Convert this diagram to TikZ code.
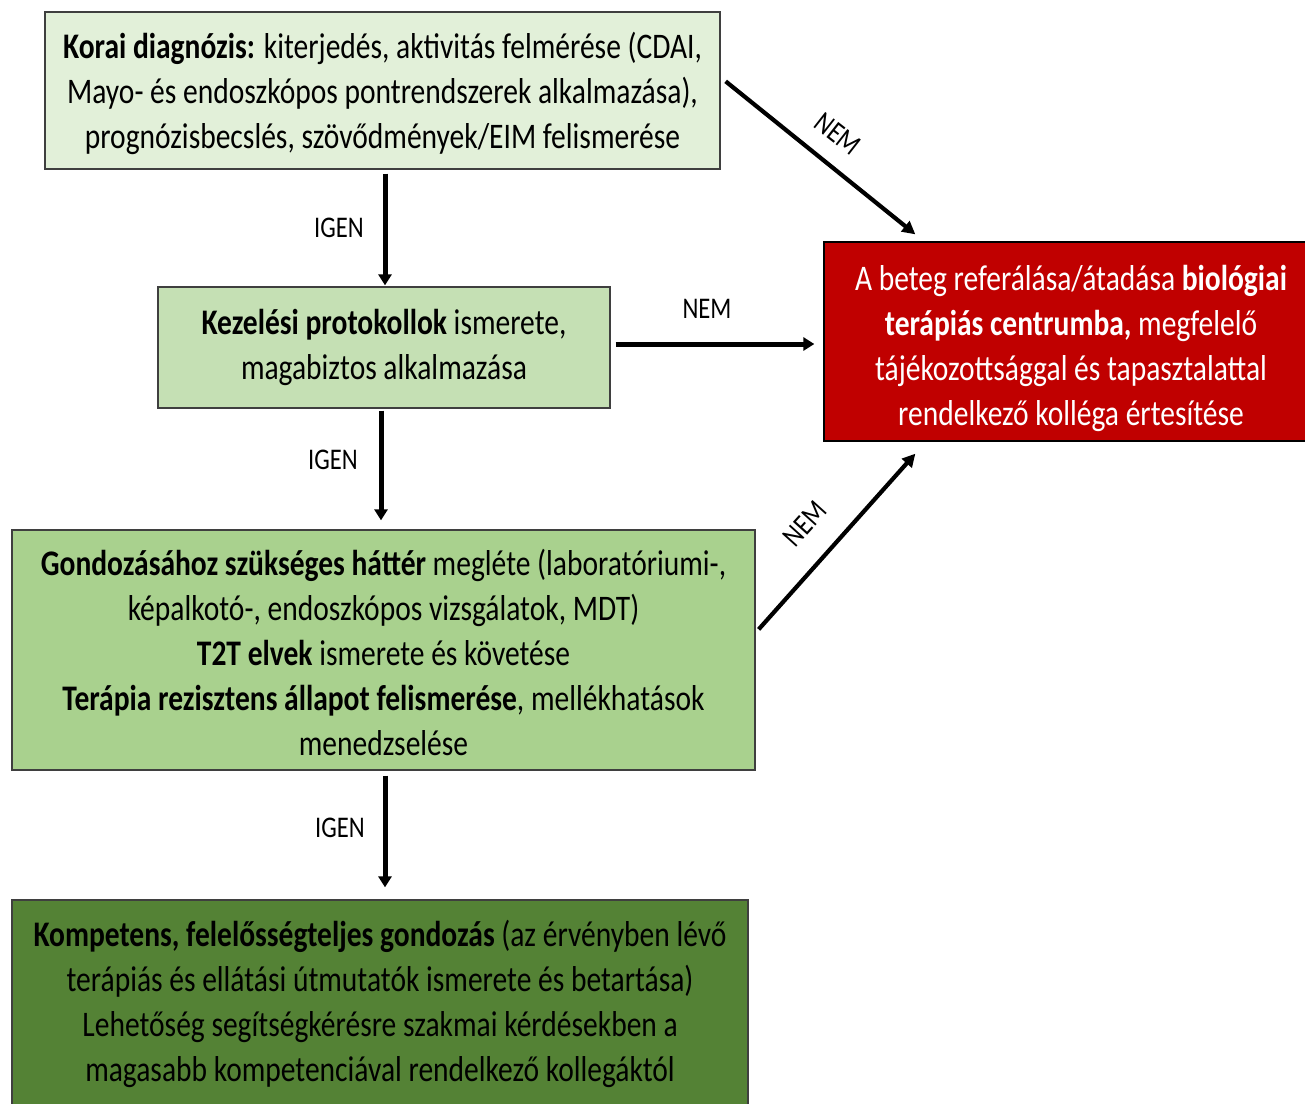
\documentclass[tikz,border=0pt]{standalone}
\usepackage{fontspec}
\setmainfont{Carlito}[FakeStretch=0.82]
\usetikzlibrary{arrows.meta,calc}
\definecolor{gA}{HTML}{E2F0D9}
\definecolor{gB}{HTML}{C5E0B4}
\definecolor{gC}{HTML}{A9D18E}
\definecolor{gD}{HTML}{548235}
\definecolor{rD}{HTML}{C00000}
\definecolor{bord}{HTML}{3F3F3F}
\tikzset{
  boxstyle/.style={draw=bord,line width=1.3pt,inner sep=0pt},
  txt/.style={inner sep=0pt,align=center,font=\fontsize{36}{45}\selectfont},
  arr/.style={-{Triangle[length=11pt,width=13pt]},line width=5pt},
  darr/.style={-{Triangle[length=13pt,width=13pt]},line width=4.2pt},
  lbl/.style={font=\fontsize{30}{32}\selectfont,inner sep=0pt}
}
\begin{document}
\begin{tikzpicture}[x=1pt,y=-1pt]
\clip (0,0) rectangle (1305,1103);
\fill[white] (0,0) rectangle (1305,1103);
\node[boxstyle,fill=gA,minimum width=675pt,minimum height=157pt] (b1) at (382.5,90.5) {};
\node[txt] (t1) at (382.5,93.5)
  {\textbf{Korai diagnózis:} kiterjedés, aktivitás felmérése (CDAI,\\ Mayo- és endoszkópos pontrendszerek alkalmazása),\\ prognózisbecslés, szövődmények/EIM felismerése};
\node[boxstyle,fill=gB,minimum width=452pt,minimum height=121pt] (b2) at (384,347.5) {};
\node[txt] (t2) at (384,347.5)
  {\textbf{Kezelési protokollok} ismerete,\\ magabiztos alkalmazása};
\node[boxstyle,fill=gC,minimum width=743pt,minimum height=240pt] (b3) at (383.5,650) {};
\node[txt] (t3) at (383.5,652.5)
  {\textbf{Gondozásához szükséges háttér} megléte (laboratóriumi-,\\ képalkotó-, endoszkópos vizsgálatok, MDT)\\ \textbf{T2T elvek} ismerete és követése\\ \textbf{Terápia rezisztens állapot felismerése}, mellékhatások\\ menedzselése};
\node[boxstyle,fill=gD,minimum width=736pt,minimum height=206pt] (b4) at (380,1003) {};
\node[txt] (t4) at (380,1004)
  {\textbf{Kompetens, felelősségteljes gondozás} (az érvényben lévő\\ terápiás és ellátási útmutatók ismerete és betartása)\\ Lehetőség segítségkérésre szakmai kérdésekben a\\ magasabb kompetenciával rendelkező kollegáktól};
\node[boxstyle,draw=black,fill=rD,minimum width=494pt,minimum height=199pt] (red) at (1071,341.5) {};
\node[txt,text=white] (tr) at (1071,348.5)
  {A beteg referálása/átadása \textbf{biológiai}\\ \textbf{terápiás centrumba,} megfelelő\\ tájékozottsággal és tapasztalattal\\ rendelkező kolléga értesítése};
% vertical arrows
\draw[arr] ($(b1.south)+(2.5,4)$) -- ($(b2.north)+(1,-1)$);
\draw[arr] ($(b2.south)+(-3,2)$) -- ($(b3.north)+(-2.5,-9)$);
\draw[arr] ($(b3.south)+(1.5,5)$) -- ($(b4.north)+(5,-12)$);
\node[lbl] (l1) at (339,228) {IGEN};
\node[lbl] (l2) at (333,460) {IGEN};
\node[lbl] (l3) at (340,828) {IGEN};
% NEM arrows
\draw[darr] ($(b1.north east)+(5,70)$) -- ($(red.north west)+(92,-7)$);
\draw[arr] ($(b2.east)+(5,-3.5)$) -- ($(red.west)+(-9,2.5)$);
\draw[darr] ($(b3.north east)+(3,100)$) -- ($(red.south west)+(92,12)$);
\node[lbl,rotate=-38] (n1) at (838,134) {NEM};
\node[lbl] (n2) at (707,309) {NEM};
\node[lbl,rotate=48] (n3) at (805,524) {NEM};
\end{tikzpicture}
\end{document}
